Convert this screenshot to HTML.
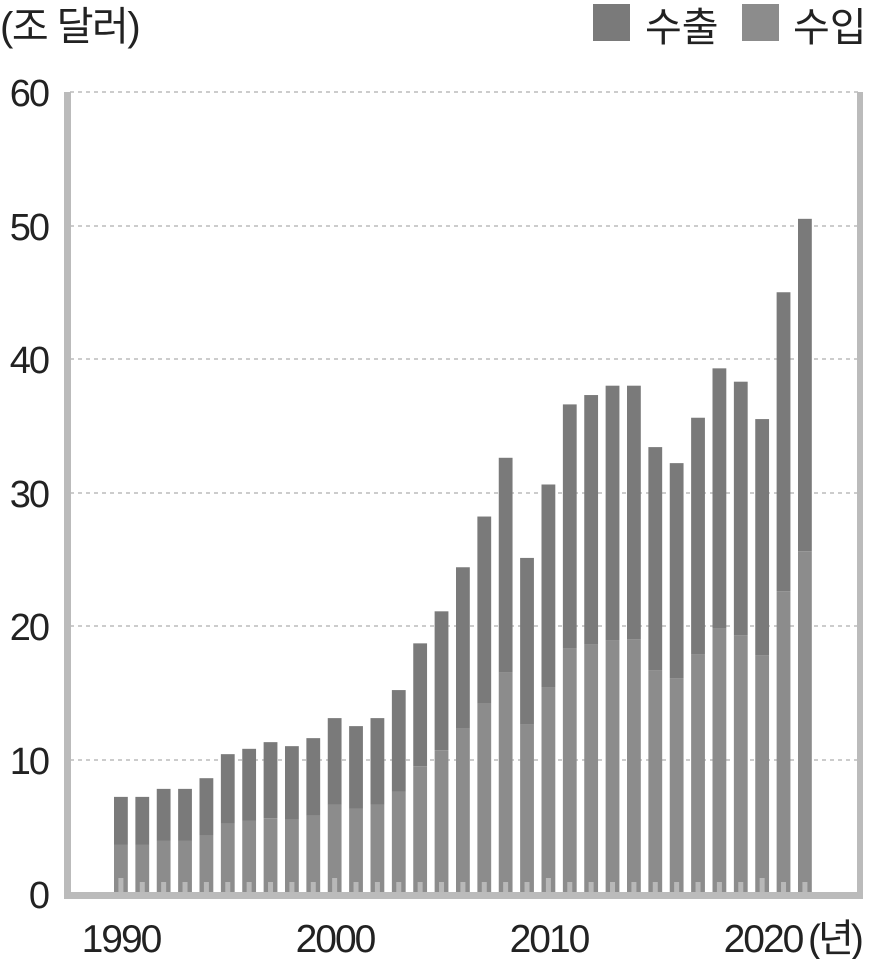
<!DOCTYPE html>
<html><head><meta charset="utf-8"><style>
html,body{margin:0;padding:0;background:#fff;width:873px;height:959px;overflow:hidden}
svg text{font-family:"Liberation Sans","Noto Sans CJK KR",sans-serif;fill:#222}
</style></head><body>
<svg id="s" width="873" height="959" viewBox="0 0 873 959" xmlns="http://www.w3.org/2000/svg">
<rect x="0" y="0" width="873" height="959" fill="#fff"/>
<text x="0" y="40" font-size="40" letter-spacing="-1.5">(조 달러)</text>
<rect x="593" y="4" width="37" height="37" fill="#7a7a7a"/>
<text x="645" y="41" font-size="40">수출</text>
<rect x="742" y="4" width="37" height="37" fill="#8c8c8c"/>
<text x="793" y="41" font-size="40">수입</text>
<g stroke="#bbb" stroke-width="1.5" stroke-dasharray="4,4">
<line x1="70" y1="92" x2="858" y2="92"/>
<line x1="70" y1="226" x2="858" y2="226"/>
<line x1="70" y1="359" x2="858" y2="359"/>
<line x1="70" y1="493" x2="858" y2="493"/>
<line x1="70" y1="626" x2="858" y2="626"/>
<line x1="70" y1="760" x2="858" y2="760"/>
</g>
<g font-size="38" text-anchor="end" letter-spacing="-2">
<text x="48" y="106">60</text>
<text x="48" y="240">50</text>
<text x="48" y="373">40</text>
<text x="48" y="507">30</text>
<text x="48" y="640">20</text>
<text x="48" y="774">10</text>
<text x="48" y="908">0</text>
</g>
<g id="bars"></g>
<rect x="64" y="92" width="7" height="807" fill="#bbb"/>
<rect x="857" y="92" width="6" height="807" fill="#bbb"/>
<rect x="64" y="892" width="799" height="7" fill="#bbb"/>
<g font-size="39" text-anchor="middle" letter-spacing="-2">
<text x="121" y="952">1990</text>
<text x="335" y="952">2000</text>
<text x="549" y="952">2010</text>
<text x="763" y="952">2020</text>
</g>
<text x="808" y="952" font-size="39" letter-spacing="-3">(년)</text>
</svg>
<script>
var d=[[7.2,3.6],[7.2,3.6],[7.8,3.9],[7.8,3.9],[8.6,4.3],[10.4,5.2],[10.8,5.4],[11.3,5.6],[11.0,5.5],[11.6,5.8],[13.1,6.6],[12.5,6.3],[13.1,6.6],[15.2,7.6],[18.7,9.5],[21.1,10.7],[24.4,12.3],[28.2,14.2],[32.6,16.5],[25.1,12.6],[30.6,15.4],[36.6,18.3],[37.3,18.6],[38.0,18.9],[38.0,19.0],[33.4,16.7],[32.2,16.1],[35.6,17.9],[39.3,19.8],[38.3,19.3],[35.5,17.8],[45.0,22.6],[50.5,25.6]];
var g=document.getElementById('bars'),h='';
function y(v){return 893-v*13.35;}
d.forEach(function(p,i){var x=114+i*21.375,w=13.8;
h+='<rect x="'+x+'" y="'+y(p[0])+'" width="'+w+'" height="'+(y(p[1])-y(p[0]))+'" fill="#7a7a7a"/>';
h+='<rect x="'+x+'" y="'+y(p[1])+'" width="'+w+'" height="'+(893-y(p[1]))+'" fill="#8c8c8c"/>';
var th=(i%10==0)?15:11;
h+='<rect x="'+(x+w/2-2.5)+'" y="'+(893-th)+'" width="5" height="'+th+'" fill="#b8b8b8"/>';});
g.innerHTML=h;
</script>
</body></html>
